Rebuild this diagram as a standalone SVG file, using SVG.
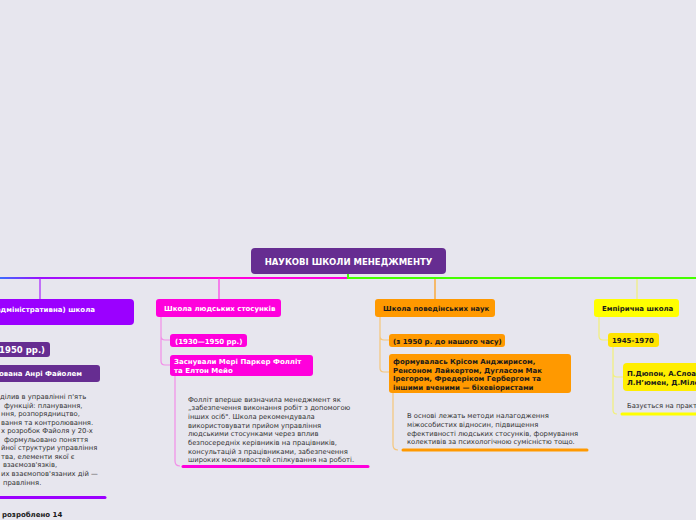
<svg xmlns="http://www.w3.org/2000/svg" width="696" height="520" viewBox="0 0 696 520">
<defs>
<linearGradient id="gl" gradientUnits="userSpaceOnUse" x1="0" y1="0" x2="348" y2="0">
<stop offset="0" stop-color="#3b6cff"/>
<stop offset="0.115" stop-color="#9a10ff"/>
<stop offset="0.63" stop-color="#ff00dc"/>
<stop offset="1" stop-color="#ff00dc"/>
</linearGradient>
</defs>
<style>
text{font-family:"DejaVu Sans",Verdana,sans-serif}
.b{font-weight:bold;font-size:7px}
.w{fill:#ffffff}
.k{fill:#1a1a1a}
.n{font-size:6.8px;fill:#333333}
.c{fill:none;stroke-width:1.2}
.u{fill:none;stroke-width:3;stroke-linecap:round}
</style>
<rect width="696" height="520" fill="#e7e6ee"/>

<g id="connectors">
<path d="M0,278 H348" stroke="url(#gl)" stroke-width="2" fill="none"/>
<path d="M348,274 V278 H696" stroke="#44ff00" stroke-width="2" fill="none"/>
<path d="M40,278 V299" stroke="#a81fff" class="c"/>
<path d="M219,278 V299" stroke="#ff3ae8" class="c"/>
<path d="M435,279 V299" stroke="#ff9a10" class="c"/>
<path d="M637,279 V299" stroke="#f2f07a" class="c"/>
<path d="M161,317 V336 Q161,340 165,340 H170 M161,336 V361 Q161,365 165,365 H170" stroke="#f28ee8" class="c"/>
<path d="M175,376 V461 Q175,466 180,466" stroke="#f28ee8" class="c"/>
<path d="M380,317 V336 Q380,340 384,340 H389 M380,336 V368 Q380,372 384,372 H389" stroke="#f5c67a" class="c"/>
<path d="M393,393 V445 Q393,450 398,450" stroke="#f5c67a" class="c"/>
<path d="M599,317 V336 Q599,340 603,340 H608" stroke="#f2f07a" class="c"/>
<path d="M613,347 V373 Q613,377 617,377 H623 M613,373 V410 Q613,414 617,414" stroke="#f2f07a" class="c"/>
</g>

<g id="root">
<rect x="251" y="248" width="195" height="26" rx="4" fill="#662d91"/>
<text x="348.5" y="264.5" text-anchor="middle" class="w" font-weight="bold" font-size="8.5">НАУКОВІ ШКОЛИ МЕНЕДЖМЕНТУ</text>
</g>

<g id="classic">
<rect x="-10" y="299" width="144" height="26" rx="4" fill="#9b00ff"/>
<text x="95" y="312" text-anchor="end" class="b w">(адміністративна) школа</text>
</g>
<g id="classic-period">
<rect x="-10" y="342" width="60" height="15" rx="3" fill="#662d91"/>
<text x="45" y="353" text-anchor="end" class="w" font-weight="bold" font-size="8.5">1950 рр.)</text>
</g>
<g id="classic-founder">
<rect x="-10" y="365" width="110" height="17" rx="3" fill="#662d91"/>
<text x="82" y="376" text-anchor="end" class="b w">Заснована Анрі Файолем</text>
</g>
<g id="classic-note">
<text class="n" x="0" y="399">ділив в управлінні п'ять</text>
<text class="n" x="4" y="407.5">функцій: планування,</text>
<text class="n" x="1" y="416">ння, розпорядництво,</text>
<text class="n" x="1" y="424.5">вання та контролювання.</text>
<text class="n" x="1" y="433">х розробок Файоля у 20-х</text>
<text class="n" x="4" y="441.5">формульовано поняття</text>
<text class="n" x="1" y="450">йної структури управління</text>
<text class="n" x="1" y="458.5">тва, елементи якої є</text>
<text class="n" x="3" y="467">взаємозв'язків,</text>
<text class="n" x="1" y="476">их взаємопов'язаних дій —</text>
<text class="n" x="3" y="484.5">правління.</text>
<path d="M0,497.5 H105" stroke="#9b00ff" class="u"/>
</g>
<g id="classic-principles">
<text x="2" y="517" class="b k">розроблено 14</text>
</g>

<g id="human">
<rect x="156" y="299" width="125" height="18" rx="3" fill="#ff00dc"/>
<text x="164" y="311" class="b w">Школа людських стосунків</text>
</g>
<g id="human-period">
<rect x="170" y="334" width="77" height="13" rx="3" fill="#ff00dc"/>
<text x="175" y="343.5" class="b w">(1930—1950 рр.)</text>
</g>
<g id="human-founders">
<rect x="170" y="355" width="143" height="21" rx="3" fill="#ff00dc"/>
<text x="174" y="364" class="b w">Заснували Мері Паркер Фолліт</text>
<text x="174" y="372.5" class="b w">та Елтон Мейо</text>
</g>
<g id="human-note">
<text class="n" x="188" y="401.5">Фолліт вперше визначила менеджмент як</text>
<text class="n" x="188" y="410">„забезпечення виконання робіт з допомогою</text>
<text class="n" x="188" y="419">інших осіб". Школа рекомендувала</text>
<text class="n" x="188" y="427.5">використовувати прийом управління</text>
<text class="n" x="188" y="436">людськими стосунками через вплив</text>
<text class="n" x="188" y="445">безпосередніх керівників на працівників,</text>
<text class="n" x="188" y="453.5">консультацій з працівниками, забезпечення</text>
<text class="n" x="188" y="462">широких можливостей спілкування на роботі.</text>
<path d="M183,466.5 H368" stroke="#ff00dc" class="u"/>
</g>

<g id="behavior">
<rect x="375" y="299" width="120" height="18" rx="3" fill="#ff9900"/>
<text x="383" y="311" class="b k">Школа поведінських наук</text>
</g>
<g id="behavior-period">
<rect x="389" y="334" width="116" height="13" rx="3" fill="#ff9900"/>
<text x="393" y="343.5" class="b k">(з 1950 р. до нашого часу)</text>
</g>
<g id="behavior-founders">
<rect x="389" y="354" width="182" height="39" rx="3" fill="#ff9900"/>
<text x="393" y="364" class="b k">формувалась Крісом Анджирисом,</text>
<text x="393" y="372.5" class="b k">Ренсоном Лайкертом, Дугласом Мак</text>
<text x="393" y="381" class="b k">Ірегором, Фредеріком Гербергом та</text>
<text x="393" y="389.5" class="b k">іншими вченими — біхевіористами</text>
</g>
<g id="behavior-note">
<text class="n" x="407" y="418">В основі лежать методи налагодження</text>
<text class="n" x="407" y="426.5">міжособистих відносин, підвищення</text>
<text class="n" x="407" y="435.5">ефективності людських стосунків, формування</text>
<text class="n" x="407" y="444">колективів за психологічною сумісністю тощо.</text>
<path d="M403,450 H587" stroke="#ff9900" class="u"/>
</g>

<g id="empirical">
<rect x="594" y="299" width="85" height="18" rx="3" fill="#ffff00"/>
<text x="602" y="311" class="b k">Емпірична школа</text>
</g>
<g id="empirical-period">
<rect x="608" y="333" width="51" height="14" rx="3" fill="#ffe400"/>
<text x="612" y="343" class="b k">1945-1970</text>
</g>
<g id="empirical-authors">
<rect x="623" y="363" width="90" height="28" rx="4" fill="#ffee00"/>
<text x="627" y="376" class="b k">П.Дюпон, А.Слоан,</text>
<text x="627" y="385" class="b k">Л.Н’юмен, Д.Мілер</text>
</g>
<g id="empirical-note">
<text class="n" x="627" y="408">Базується на практиці</text>
<path d="M622,414 H700" stroke="#ffff00" class="u"/>
</g>
</svg>
